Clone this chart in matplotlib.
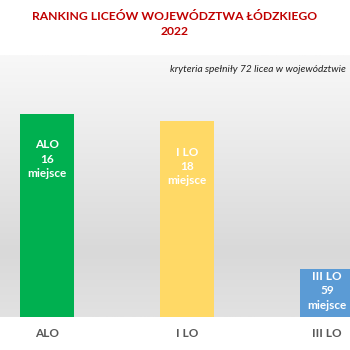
import numpy as np
import matplotlib
matplotlib.use("Agg")
import matplotlib.pyplot as plt
from matplotlib.colors import LinearSegmentedColormap

# data
schools = ["ALO", "I LO", "III LO"]
ranks = [16, 18, 59]
bar_heights = [57, 55, 13.5]
bar_colors = ["#00B050", "#FFD966", "#5B9BD5"]

title = "RANKING LICEÓW WOJEWÓDZTWA ŁÓDZKIEGO\n2022"
note = "kryteria spełniły 72 licea w województwie"

plt.rcParams["font.family"] = ["Lato", "DejaVu Sans"]

W, H = 350, 350
fig = plt.figure(figsize=(3.5, 3.5), dpi=100)
fig.patch.set_facecolor("white")

top_px, bot_px = 55, 317
rect = [0, 1 - bot_px / H, 1, (bot_px - top_px) / H]

# gray gradient panel behind the bars
bg = fig.add_axes(rect)
grad = LinearSegmentedColormap.from_list(
    "bg", [(0, "#F8F8F8"), (0.35, "#EAEAEA"), (0.75, "#D9D9D9"), (1, "#E2E2E2")])
bg.imshow(np.linspace(0, 1, 256).reshape(-1, 1), aspect="auto", cmap=grad,
          extent=[0, 1, 0, 1], origin="upper")
bg.axis("off")

ax = fig.add_axes(rect)
ax.patch.set_alpha(0)
x = np.arange(len(schools))
ax.bar(x, bar_heights, width=0.386, color=bar_colors)
ax.set_xlim(-47 / 140, (350 - 47) / 140)
ax.set_ylim(0, 73.6)
ax.set_yticks([])
ax.set_xticks(x)
ax.set_xticklabels(schools, fontsize=8.5, fontweight="bold", color="#595959")
ax.tick_params(axis="x", length=0, pad=8)
for s in ax.spines.values():
    s.set_visible(False)

# labels inside the bars
fig.canvas.draw()
for i, (name, r, h) in enumerate(zip(schools, ranks, bar_heights)):
    y0 = ax.transData.transform((0, 0))[1]
    y1 = ax.transData.transform((0, h))[1]
    dy = min(45, (y1 - y0) / 2 - 2) * 72 / 100
    ax.annotate(f"{name}\n{r}\nmiejsce", xy=(i, h), xytext=(0, -dy),
                textcoords="offset points", ha="center", va="center",
                color="white", fontsize=8.5, fontweight="bold", linespacing=1.35)

fig.text(0.5, 1 - 24 / H, title, ha="center", va="center", color="#C00000",
         fontsize=8.7, fontweight="bold", linespacing=1.45)
fig.text(346 / W, 1 - 69 / H, note, ha="right", va="center", color="#222222",
         fontsize=7.3, style="italic")

fig.savefig("out.png", dpi=100, facecolor="white")
